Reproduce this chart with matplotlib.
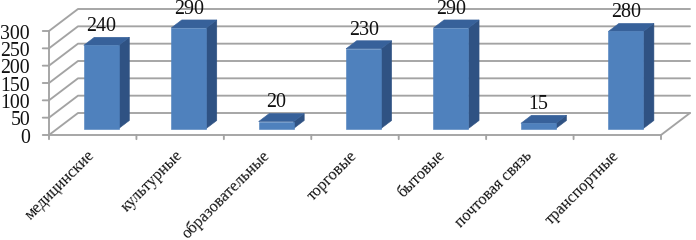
import matplotlib
matplotlib.use("Agg")
import matplotlib.pyplot as plt
from matplotlib.patches import Polygon

categories = ["медицинские", "культурные", "образовательные", "торговые",
              "бытовые", "почтовая связь", "транспортные"]
values = [240, 290, 20, 230, 290, 15, 280]
y_ticks = [0, 50, 100, 150, 200, 250, 300]

W, H = 696, 240
plt.rcParams['font.family'] = ['Liberation Serif', 'DejaVu Serif']
fig = plt.figure(figsize=(W / 100, H / 100), dpi=100)
ax = fig.add_axes([49 / W, (H - 135) / H, 612 / W, 104 / H])
ax.set_xlim(0, len(categories))
ax.set_ylim(0, 300)
ax.axis("off")

# oblique projection: depth 0 = front plane, depth 1 = back wall
DX = 29 / (612 / 7)
DY = 22 / (104 / 300)


def proj(x, v, d=0.0):
    return (x + d * DX, v + d * DY)


GRID = "#a3a3a3"
line = dict(color=GRID, lw=1.35, clip_on=False, solid_capstyle="round", zorder=1)
tick = dict(arrowstyle="-", color=GRID, lw=1.35, shrinkA=0, shrinkB=0)
n = len(categories)

ax.plot([0, 0], [0, 300], **line)
for t in y_ticks:
    a, b, c = proj(0, t), proj(0, t, 1), proj(n, t, 1)
    ax.plot([a[0], b[0], c[0]], [a[1], b[1], c[1]], **line)
    ax.annotate(str(t), xy=a, xytext=(-13.6, -0.5),
                textcoords="offset points", ha="right", va="center_baseline",
                fontsize=14.2, color="#111111", annotation_clip=False)
    ax.annotate("", xy=a, xytext=(-4.5, 0), textcoords="offset points", arrowprops=tick)

# floor front edge, right floor edge and category ticks
ax.plot([0, n], [0, 0], **line)
e = proj(n, 0), proj(n, 0, 1)
ax.plot([e[0][0], e[1][0]], [e[0][1], e[1][1]], **line)
for i in range(n + 1):
    ax.annotate("", xy=(i, 0), xytext=(0, -3), textcoords="offset points", arrowprops=tick)

FRONT, SIDE, TOP = "#4f81bd", "#2f5283", "#37619a"
BAR_W = 0.4
D0, D1 = 0.295, 0.66

for i, (cat, v) in enumerate(zip(categories, values)):
    x0, x1 = i + 0.5 - BAR_W / 2, i + 0.5 + BAR_W / 2
    front = [proj(x0, 0, D0), proj(x1, 0, D0), proj(x1, v, D0), proj(x0, v, D0)]
    side = [proj(x1, 0, D0), proj(x1, 0, D1), proj(x1, v, D1), proj(x1, v, D0)]
    top = [proj(x0, v, D0), proj(x1, v, D0), proj(x1, v, D1), proj(x0, v, D1)]
    for pts, col in ((side, SIDE), (top, TOP), (front, FRONT)):
        ax.add_patch(Polygon(pts, closed=True, facecolor=col, edgecolor=col, lw=0.4,
                             zorder=3, clip_on=False))
    lx, ly = proj(i + 0.5, v, D1)
    ax.annotate(str(v), xy=(lx, ly), xytext=(-7.5, 0.8), textcoords="offset points",
                ha="center", va="bottom", fontsize=14.4, color="#111111",
                zorder=4, annotation_clip=False)
    ax.annotate(cat, xy=(i + 0.5, 0), xytext=(-4, -9), textcoords="offset points",
                ha="right", va="top", rotation=45, rotation_mode="anchor",
                fontsize=11.7, color="#111111", annotation_clip=False)

fig.savefig("out.png", dpi=100, facecolor="white")
